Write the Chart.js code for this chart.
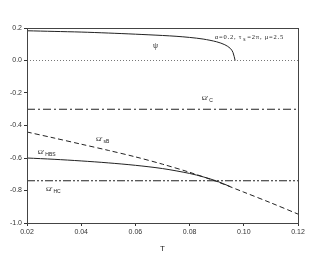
<!DOCTYPE html>
<html>
<head>
<meta charset="utf-8">
<script src="https://cdn.jsdelivr.net/npm/chart.js@4.4.0/dist/chart.umd.min.js"></script>
<style>
  html, body { margin: 0; padding: 0; background: #fff; }
  #wrap { position: relative; width: 313px; height: 256px; }
</style>
</head>
<body>
<div id="wrap"><canvas id="c"></canvas></div>
<script>
// T values and curves
const psiT = [0.02, 0.03, 0.04, 0.05, 0.06, 0.07, 0.075, 0.08, 0.085, 0.09, 0.093, 0.095, 0.096, 0.0968];
const psiV = [0.183, 0.179, 0.175, 0.169, 0.162, 0.154, 0.149, 0.142, 0.132, 0.115, 0.097, 0.075, 0.05, 0.0];

const sbT = [0.02, 0.03, 0.04, 0.05, 0.06, 0.07, 0.08, 0.09, 0.10, 0.11, 0.12];
const sbV = [-0.44, -0.477, -0.515, -0.553, -0.593, -0.638, -0.688, -0.745, -0.81, -0.876, -0.945];

const hbT = [0.02, 0.03, 0.04, 0.05, 0.06, 0.07, 0.08, 0.085, 0.09, 0.095];
const hbV = [-0.60, -0.608, -0.618, -0.63, -0.645, -0.665, -0.695, -0.716, -0.742, -0.776];

const lineT = [0.02, 0.12];
const omegaC = -0.30;
const omegaHC = -0.74;
const zeroLine = 0.0;

const xTicks = [0.02, 0.04, 0.06, 0.08, 0.10, 0.12];
const yTicks = [0.2, 0.0, -0.2, -0.4, -0.6, -0.8, -1.0];

const pts = (xs, ys) => xs.map((x, i) => ({ x, y: ys[i] }));
const flat = (v) => lineT.map(x => ({ x, y: v }));

const labels = [
  { x: 0.0665, y: 0.075, text: 'ψ', sub: '', size: 8 },
  { x: 0.0893, y: 0.13, text: 'α=0.2, τ', sub: 's', rest: '=2π, μ=2.5', size: 6.5, spacing: 0.8 },
  { x: 0.0845, y: -0.245, text: "Ω'", sub: 'C', size: 7 },
  { x: 0.0455, y: -0.495, text: "Ω'", sub: 'sB', size: 7 },
  { x: 0.024, y: -0.575, text: "Ω'", sub: 'HBS', size: 7 },
  { x: 0.027, y: -0.80, text: "Ω'", sub: 'HC', size: 7 }
];

const textPlugin = {
  id: 'texts',
  afterDatasetsDraw(chart) {
    const { ctx, scales: { x, y }, chartArea: a } = chart;
    ctx.save();
    ctx.strokeStyle = '#444';
    ctx.lineWidth = 1;
    ctx.strokeRect(a.left + 0.5, a.top + 0.5, a.right - a.left, a.bottom - a.top);
    ctx.fillStyle = '#222';
    ctx.textBaseline = 'alphabetic';
    labels.forEach(l => {
      let px = x.getPixelForValue(l.x);
      const py = y.getPixelForValue(l.y);
      ctx.letterSpacing = (l.spacing || 0) + 'px';
      ctx.font = l.size + 'px "Liberation Serif", serif';
      ctx.fillText(l.text, px, py);
      px += ctx.measureText(l.text).width + 1;
      if (l.sub) {
        ctx.font = (l.size - 2) + 'px "Liberation Sans", sans-serif';
        ctx.fillText(l.sub, px, py + 2);
        px += ctx.measureText(l.sub).width + 1;
      }
      if (l.rest) {
        ctx.font = l.size + 'px "Liberation Serif", serif';
        ctx.fillText(l.rest, px, py);
      }
    });
    ctx.restore();
  }
};

const base = { showLine: true, pointRadius: 0, borderWidth: 1, fill: false, tension: 0 };

new Chart(document.getElementById('c'), {
  type: 'scatter',
  data: {
    datasets: [
      { ...base, data: flat(zeroLine), borderColor: '#777', borderDash: [1, 2] },
      { ...base, data: flat(omegaC), borderColor: '#222', borderDash: [8, 3, 2, 3] },
      { ...base, data: flat(omegaHC), borderColor: '#222', borderDash: [8, 2, 2, 2, 2, 2] },
      { ...base, data: pts(psiT, psiV), borderColor: '#222', tension: 0.3 },
      { ...base, data: pts(sbT, sbV), borderColor: '#222', borderDash: [5, 3], tension: 0.3 },
      { ...base, data: pts(hbT, hbV), borderColor: '#222', tension: 0.3 }
    ]
  },
  options: {
    responsive: true,
    maintainAspectRatio: false,
    animation: false,
    layout: { padding: { top: 28, right: 15, left: 0, bottom: 2 } },
    plugins: { legend: { display: false }, tooltip: { enabled: false } },
    scales: {
      x: {
        type: 'linear', min: 0.02, max: 0.12,
        afterBuildTicks: s => { s.ticks = xTicks.map(v => ({ value: v })); },
        afterFit: s => { s.height = 31; },
        grid: { display: true, drawOnChartArea: false, drawTicks: true, tickLength: 3, color: '#333' },
        border: { display: true, color: '#444' },
        ticks: { color: '#333', font: { family: '"Liberation Sans", Arial', size: 7 }, padding: 2, maxRotation: 0,
          callback: v => v.toFixed(2) },
        title: { display: true, text: 'T', color: '#222', font: { family: '"Liberation Sans", Arial', size: 8 }, padding: { top: 6, bottom: 0 } }
      },
      y: {
        type: 'linear', min: -1.0, max: 0.2,
        afterBuildTicks: s => { s.ticks = yTicks.map(v => ({ value: v })); },
        afterFit: s => { s.width = 27; },
        grid: { display: true, drawOnChartArea: false, drawTicks: true, tickLength: 3, color: '#333' },
        border: { display: true, color: '#444' },
        ticks: { color: '#333', font: { family: '"Liberation Sans", Arial', size: 7 }, padding: 2,
          callback: v => v.toFixed(1) }
      }
    }
  },
  plugins: [textPlugin]
});
</script>
</body>
</html>
